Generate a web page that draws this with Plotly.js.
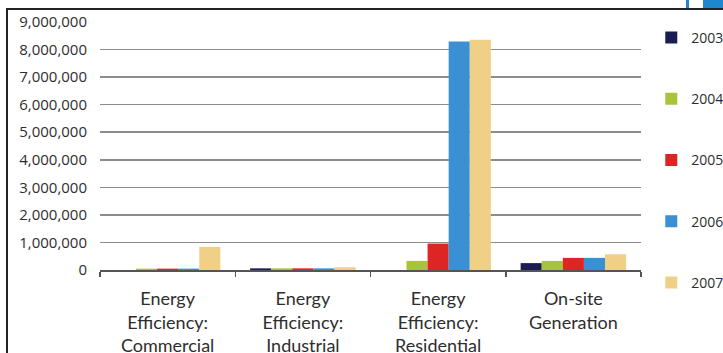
<!DOCTYPE html>
<html>
<head>
<meta charset="utf-8">
<script src="https://cdn.plot.ly/plotly-3.0.1.min.js"></script>
<style>
  html, body { margin: 0; padding: 0; background: #ffffff; }
  #wrap { position: relative; width: 723px; height: 353px; overflow: hidden; }
  #chart { position: absolute; left: 0; top: 0; width: 723px; height: 353px; }
  .frame-top { position: absolute; left: 6px; top: 8px; width: 717px; height: 2px; background: #232323; pointer-events: none; }
  .frame-left { position: absolute; left: 6px; top: 8px; width: 2px; height: 345px; background: #232323; pointer-events: none; }
  .tab-line { position: absolute; left: 686px; top: 0; width: 3px; height: 8px; background: #1f86d0; pointer-events: none; }
  .tab-box { position: absolute; left: 703px; top: 0; width: 20px; height: 8px; background: #1f86d0; pointer-events: none; }
</style>
</head>
<body>
<div id="wrap">
  <div id="chart"></div>
  <div class="frame-top"></div>
  <div class="frame-left"></div>
  <div class="tab-line"></div>
  <div class="tab-box"></div>
</div>
<script>
// Program categories along the x axis
const categories = [
  'Energy<br>Efficiency:<br>Commercial',
  'Energy<br>Efficiency:<br>Industrial',
  'Energy<br>Efficiency:<br>Residential',
  'On-site<br>Generation'
];

// Annual values per program
const years = ['2003', '2004', '2005', '2006', '2007'];
const values2003 = [0, 60000, 0, 250000];
const values2004 = [50000, 60000, 330000, 330000];
const values2005 = [50000, 60000, 960000, 440000];
const values2006 = [50000, 60000, 8290000, 440000];
const values2007 = [840000, 100000, 8360000, 570000];

// Y axis ticks
const yTickValues = [0, 1000000, 2000000, 3000000, 4000000, 5000000, 6000000, 7000000, 8000000, 9000000];

const seriesValues = [values2003, values2004, values2005, values2006, values2007];
const seriesColors = ['#1b1d52', '#a9c43c', '#dd2526', '#3a90d2', '#f0cf86'];

const traces = years.map((yr, i) => ({
  type: 'bar',
  name: yr,
  x: categories,
  y: seriesValues[i],
  legendgroup: yr,
  marker: { color: seriesColors[i], line: { width: 0 } },
  hoverinfo: 'x+y+name'
}));

const font = "'Open Sans', 'Noto Sans', sans-serif";
const catFont = "Lato, 'Open Sans', sans-serif";

const layout = {
  width: 723,
  height: 353,
  margin: { l: 100, r: 82, t: 22, b: 83, pad: 0, autoexpand: false },
  paper_bgcolor: '#ffffff',
  plot_bgcolor: '#ffffff',
  barmode: 'group',
  bargap: 0.22,
  bargroupgap: 0,
  font: { family: font, color: '#2e2e2e', size: 14 },
  xaxis: {
    type: 'category',
    automargin: false,
    showgrid: false,
    showline: true,
    linecolor: '#555555',
    linewidth: 1.5,
    ticks: 'outside',
    tickson: 'boundaries',
    ticklen: 5,
    tickcolor: '#555555',
    tickwidth: 1.5,
    ticklabelstandoff: 12,
    tickfont: { family: catFont, size: 18, color: '#2e2e2e' },
    fixedrange: true
  },
  yaxis: {
    range: [0, 9000000],
    automargin: false,
    tickvals: yTickValues,
    tickformat: ',',
    showgrid: true,
    gridcolor: '#8c8c8c',
    gridwidth: 1.5,
    zeroline: false,
    showline: false,
    ticks: '',
    ticklabelstandoff: 12,
    tickfont: { family: font, size: 15, color: '#2e2e2e' },
    fixedrange: true
  },
  showlegend: true,
  legend: {
    x: 1.019,
    xanchor: 'left',
    y: 1,
    yanchor: 'top',
    maxheight: 400,
    traceorder: 'grouped',
    tracegroupgap: 40,
    bgcolor: 'rgba(0,0,0,0)',
    borderwidth: 0,
    font: { family: font, size: 14, color: '#2e2e2e' },
    itemclick: false,
    itemdoubleclick: false
  }
};

Plotly.newPlot('chart', traces, layout, { displayModeBar: false, staticPlot: true });
</script>
</body>
</html>
